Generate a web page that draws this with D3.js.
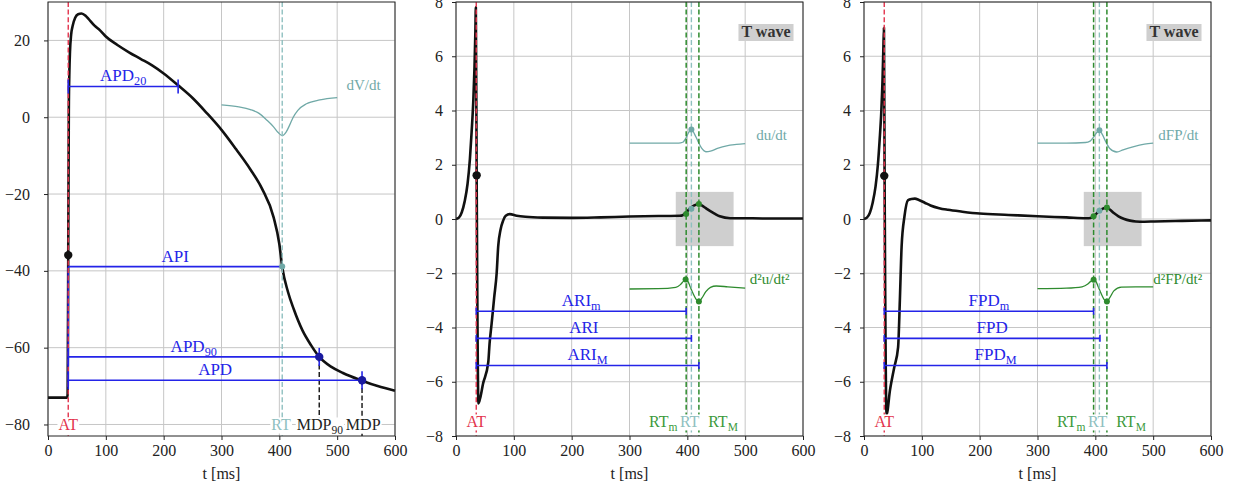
<!DOCTYPE html>
<html><head><meta charset="utf-8">
<script src="https://cdn.jsdelivr.net/npm/d3@7"></script>
<style>
body{margin:0;background:#fff}
svg{display:block}
text{font-family:"Liberation Serif","DejaVu Serif",serif}
</style>
</head><body>
<svg id="chart" width="1240" height="492"></svg>
<script>
// ---------------- data ----------------
const xTickValues = [0, 100, 200, 300, 400, 500, 600];
const apYTickValues = [-80, -60, -40, -20, 0, 20];
const egmYTickValues = [-8, -6, -4, -2, 0, 2, 4, 6, 8];

// Panel 1: action potential (mV)
const apTime =    [0, 33, 34, 35, 36, 37, 38, 40, 43, 47, 52, 58, 65, 70, 80, 90, 100, 120, 140, 160, 180, 200, 225, 250, 275, 300, 325, 350, 370, 390, 400, 405, 415, 425, 440, 455, 469, 490, 510, 543, 570, 600];
const apVoltage = [-73, -73, -72, -36, 2, 12, 17, 21.5, 24, 25.9, 26.8, 27, 26.4, 25.6, 23.9, 22.6, 21, 18.8, 16.9, 15.2, 13.5, 11.4, 8.3, 5, 1, -3.3, -8.3, -13.6, -18.6, -26, -33, -39, -45.5, -50, -55.5, -59.4, -62.4, -65, -66.6, -68.6, -70, -71.2];
const dvdtTime =  [300, 330, 350, 365, 378, 390, 398, 405, 412, 418, 424, 432, 447, 470, 500];
const dvdtValue = [3.2, 2.7, 2.0, 1.0, -0.7, -2.5, -4.0, -4.8, -3.8, -2.0, 0.0, 1.8, 3.5, 4.5, 5.1];
const apEventNames = ["AT", "RT", "MDP90", "MDP"];
const apEventTimes = [35, 405, 469, 543];
const apBarNames = ["APD20", "API", "APD90", "APD"];
const apBarLevels = [8, -38.9, -62.4, -68.5];
const apBarEnds = [225, 405, 469, 543];
const apUpstrokeDot = [35, -35.9];

// Panel 2: unipolar electrogram u
const uTime =  [0, 5, 10, 15, 20, 24, 27, 30, 32, 33.5, 34.3, 35.7, 38.8, 47, 55.8, 58, 61.6, 66, 70.3, 73, 77, 81.7, 86, 93, 105, 120, 150, 200, 250, 300, 350, 387, 392, 396, 404, 412, 419, 425, 432, 439, 447, 456, 474, 496, 530, 600];
const uValue = [0, 0.05, 0.25, 0.65, 1.3, 2.2, 3.2, 4.4, 5.6, 6.9, 7.8, 1.6, -6.8, -6.05, -5.28, -4.6, -3.86, -2.9, -2.0, -1.0, -0.4, -0.05, 0.12, 0.18, 0.12, 0.08, 0.05, 0.04, 0.06, 0.09, 0.11, 0.12, 0.14, 0.2, 0.38, 0.5, 0.55, 0.5, 0.4, 0.3, 0.2, 0.1, 0.03, 0.03, 0.02, 0.02];
const duTime =  [300, 350, 385, 392, 398, 402, 407, 412, 418, 425, 432, 440, 452, 468, 485, 500];
const duValue = [2.8, 2.8, 2.8, 2.83, 3.0, 3.18, 3.3, 3.15, 2.88, 2.6, 2.48, 2.5, 2.6, 2.7, 2.75, 2.78];
const d2uTime =  [300, 350, 380, 388, 393, 397, 401, 405, 410, 415, 420, 425, 432, 440, 450, 470, 500];
const d2uValue = [-2.58, -2.57, -2.52, -2.42, -2.3, -2.23, -2.3, -2.5, -2.75, -2.95, -3.04, -2.92, -2.68, -2.52, -2.47, -2.5, -2.55];
const uEventTimes = [35, 398, 407, 420];          // AT, RTm, RT, RTM
const uRtValues = [0.18, 0.38, 0.55];            // u at RTm, RT, RTM
const ariLevels = [-3.4, -4.4, -5.4];
const ariEnds = [398, 407, 420];
const uUpstrokeDot = [35.7, 1.61];

// Panel 3: field potential FP
const fpTime =  [0, 5, 10, 15, 20, 24, 27, 30, 32, 33.5, 34.5, 35.6, 39, 45, 52, 59, 62, 65, 70, 76, 82, 88, 95, 105, 115, 130, 145, 170, 200, 250, 300, 350, 385, 392, 397, 402, 407, 413, 419, 425, 432, 440, 450, 460, 470, 485, 502, 550, 600];
const fpValue = [0, 0.05, 0.22, 0.6, 1.2, 2.0, 2.9, 4.0, 5.1, 6.3, 7.05, 1.6, -7.2, -6.3, -5.5, -4.72, -3.0, -1.03, 0.1, 0.69, 0.74, 0.75, 0.7, 0.6, 0.5, 0.4, 0.34, 0.27, 0.2, 0.15, 0.1, 0.06, 0.03, 0.04, 0.1, 0.2, 0.3, 0.38, 0.42, 0.35, 0.22, 0.1, 0.0, -0.06, -0.09, -0.1, -0.09, -0.07, -0.05];
const dfpTime =  [300, 350, 383, 391, 397, 402, 407, 412, 418, 425, 437, 448, 465, 485, 500];
const dfpValue = [2.8, 2.8, 2.82, 2.87, 3.02, 3.18, 3.27, 3.12, 2.85, 2.6, 2.47, 2.55, 2.66, 2.76, 2.8];
const d2fpTime =  [300, 350, 377, 387, 392, 397, 401, 405, 410, 415, 420, 425, 432, 445, 470, 500];
const d2fpValue = [-2.57, -2.55, -2.5, -2.4, -2.3, -2.24, -2.3, -2.5, -2.75, -2.96, -3.04, -2.9, -2.65, -2.51, -2.5, -2.5];
const fpEventTimes = [35, 397, 407, 420];
const fpRtValues = [0.1, 0.3, 0.42];
const fpdLevels = [-3.4, -4.4, -5.4];
const fpdEnds = [397, 408, 420];
const fpUpstrokeDot = [35, 1.59];

const tWaveWindow = [380, 480];
const tWaveRange = [-1, 1];

// ---------------- styling ----------------
const COL = {
  black: "#111111", blue: "#2424e8", teal: "#70a9a7", tealLine: "#8fc0c0",
  green: "#2e8b2e", greenText: "#3c9a3c", red: "#e3334d", grid: "#c6c6c6",
  box: "#cfcfcf", frame: "#222222", text: "#222222"
};
const svg = d3.select("#chart");

function makePanel(left, right, top, bottom, yDomain, yTicks, labelGap) {
  const x = d3.scaleLinear().domain([0, 600]).range([left, right]);
  const y = d3.scaleLinear().domain(yDomain).range([bottom, top]);
  const g = svg.append("g");
  const grid = g.append("g");
  grid.selectAll("line.vx").data(xTickValues).join("line")
    .attr("x1", d => x(d)).attr("x2", d => x(d)).attr("y1", top).attr("y2", bottom)
    .attr("stroke", COL.grid).attr("stroke-width", 1);
  grid.selectAll("line.hy").data(yTicks).join("line")
    .attr("x1", left).attr("x2", right).attr("y1", d => y(d)).attr("y2", d => y(d))
    .attr("stroke", COL.grid).attr("stroke-width", 1);
  const layer = g.append("g");
  const ax = g.append("g").attr("transform", `translate(0,${bottom})`)
    .call(d3.axisBottom(x).tickValues(xTickValues).tickSize(4).tickPadding(5).tickFormat(d3.format("d")));
  const ay = g.append("g").attr("transform", `translate(${left},0)`)
    .call(d3.axisLeft(y).tickValues(yTicks).tickSize(4).tickPadding(labelGap));
  [ax, ay].forEach(a => {
    a.select(".domain").remove();
    a.selectAll("line").attr("stroke", COL.frame);
    a.selectAll("text").attr("font-size", 16).attr("fill", COL.text)
      .attr("font-family", '"Liberation Serif","DejaVu Serif",serif');
  });
  g.append("rect").attr("x", left).attr("y", top).attr("width", right - left).attr("height", bottom - top)
    .attr("fill", "none").attr("stroke", COL.frame).attr("stroke-width", 1);
  g.append("text").attr("x", (left + right) / 2).attr("y", 479).attr("text-anchor", "middle")
    .attr("font-size", 16).attr("fill", COL.text).text("t [ms]");
  return { x, y, g: layer, top, bottom };
}

function curve(P, ts, vs, color, width) {
  const line = d3.line().x(d => P.x(d[0])).y(d => P.y(d[1])).curve(d3.curveMonotoneX);
  P.g.append("path").datum(d3.zip(ts, vs)).attr("d", line)
    .attr("fill", "none").attr("stroke", color).attr("stroke-width", width)
    .attr("stroke-linejoin", "round");
}
function vdash(P, t, color, y1, y2, width) {
  P.g.append("line").attr("x1", P.x(t)).attr("x2", P.x(t))
    .attr("y1", y1 === undefined ? P.top : P.y(y1)).attr("y2", y2 === undefined ? P.bottom : P.y(y2))
    .attr("stroke", color).attr("stroke-width", width || 1.4).attr("stroke-dasharray", "5,2.6");
}
function dot(P, t, v, color, r) {
  P.g.append("circle").attr("cx", P.x(t)).attr("cy", P.y(v)).attr("r", r).attr("fill", color);
}
function splitName(name) {
  // separate trailing subscript (digits or m/M) from base
  const m = name.match(/^(.*?)(\d+)$/);
  if (m) return [m[1], m[2]];
  return [name, null];
}
function rich(P, px, py, base, sub, color, size, anchor, boxed) {
  const t = P.g.append("text").attr("x", px).attr("y", py).attr("text-anchor", anchor || "middle")
    .attr("font-size", size).attr("fill", color);
  t.append("tspan").text(base);
  if (sub) t.append("tspan").attr("dy", size * 0.22).attr("font-size", size * 0.72).text(sub);
  if (boxed) {
    const b = t.node().getBBox();
    P.g.insert("rect", () => t.node()).attr("x", b.x - 1).attr("y", b.y + 1).attr("width", b.width + 2)
      .attr("height", b.height - 1).attr("fill", "#fff");
  }
  return t;
}
function bar(P, t0, t1, level, color, cap, name) {
  const yy = P.y(level);
  P.g.append("line").attr("x1", P.x(t0)).attr("x2", P.x(t1)).attr("y1", yy).attr("y2", yy)
    .attr("stroke", color).attr("stroke-width", 1.6);
  [t0, t1].forEach(t => P.g.append("line").attr("x1", P.x(t)).attr("x2", P.x(t))
    .attr("y1", yy - cap).attr("y2", yy + cap).attr("stroke", color).attr("stroke-width", 1.6));
  const [b, s] = name;
  rich(P, P.x((t0 + t1) / 2), yy - 5, b, s, color, 17, "middle", false);
}
function tWaveLabel(P) {
  const t = P.g.append("text").attr("x", P.x(536)).attr("y", 37).attr("text-anchor", "middle")
    .attr("font-size", 16).attr("font-weight", "bold").attr("fill", "#333").text("T wave");
  const b = t.node().getBBox();
  P.g.insert("rect", () => t.node()).attr("x", b.x - 3).attr("y", b.y + 1).attr("width", b.width + 6)
    .attr("height", b.height + 0).attr("fill", COL.box);
}

// ---------------- panel 1 ----------------
const P1 = makePanel(48, 395, 2, 436, [-83, 30], apYTickValues, 14);
curve(P1, dvdtTime, dvdtValue, COL.teal, 1.3);
curve(P1, apTime, apVoltage, COL.black, 2.6);
vdash(P1, apEventTimes[1], COL.tealLine);
vdash(P1, apEventTimes[2], COL.black, apBarLevels[2], -83);
vdash(P1, apEventTimes[3], COL.black, apBarLevels[3], -83);
// blue connector along AT
P1.g.append("line").attr("x1", P1.x(apEventTimes[0])).attr("x2", P1.x(apEventTimes[0]))
  .attr("y1", P1.y(apBarLevels[1])).attr("y2", P1.y(apBarLevels[3]) + 6)
  .attr("stroke", COL.blue).attr("stroke-width", 1.6);
vdash(P1, apEventTimes[0], COL.red);
apBarNames.forEach((n, i) => {
  const nm = n === "APD20" ? ["APD", "20"] : n === "APD90" ? ["APD", "90"] : [n, null];
  bar(P1, apEventTimes[0], apBarEnds[i], apBarLevels[i], COL.blue, i === 1 ? 0 : (i === 0 ? 7 : 9), nm);
});
dot(P1, apUpstrokeDot[0], apUpstrokeDot[1], COL.black, 4.2);
dot(P1, apBarEnds[1], apBarLevels[1], COL.teal, 3);
dot(P1, apBarEnds[2], apBarLevels[2], "#1a1aa0", 4.2);
dot(P1, apBarEnds[3], apBarLevels[3], "#1a1aa0", 4.2);
rich(P1, P1.x(apEventTimes[0]), P1.y(-80) + 6, "AT", null, COL.red, 16, "middle", true);
rich(P1, P1.x(403), P1.y(-80) + 6, "RT", null, COL.tealLine, 16, "middle", true);
rich(P1, P1.x(470), P1.y(-80) + 6, "MDP", "90", COL.text, 16, "middle", true);
rich(P1, P1.x(545), P1.y(-80) + 6, "MDP", null, COL.text, 16, "middle", true);
rich(P1, P1.x(516), P1.y(7.2), "dV/dt", null, COL.teal, 15, "start", false);

// ---------------- panels 2 and 3 ----------------
function egmPanel(left, right, sig, der, der2, ev, rtVals, levels, ends, upDot, names, derLabels, derPos) {
  const P = makePanel(left, right, 2, 436, [-8, 8], egmYTickValues, 9);
  P.g.append("rect").attr("x", P.x(tWaveWindow[0])).attr("y", P.y(tWaveRange[1]))
    .attr("width", P.x(tWaveWindow[1]) - P.x(tWaveWindow[0]))
    .attr("height", P.y(tWaveRange[0]) - P.y(tWaveRange[1])).attr("fill", COL.box);
  curve(P, der[0], der[1], COL.teal, 1.3);
  curve(P, der2[0], der2[1], COL.green, 1.3);
  curve(P, sig[0], sig[1], COL.black, 2.6);
  vdash(P, ev[1], COL.green, undefined, undefined, 1.5);
  vdash(P, ev[2], COL.tealLine, undefined, undefined, 1.4);
  vdash(P, ev[3], COL.green, undefined, undefined, 1.5);
  vdash(P, ev[0], COL.red, undefined, undefined, 1.4);
  levels.forEach((lv, i) => bar(P, ev[0], ends[i], lv, COL.blue, 3.5, names[i]));
  dot(P, upDot[0], upDot[1], COL.black, 4.2);
  // marker dots on derivative peaks and signal
  const pk = d3.zip(der[0], der[1]).reduce((a, b) => b[1] > a[1] ? b : a);
  dot(P, pk[0], pk[1], COL.teal, 3);
  const mx = d3.zip(der2[0], der2[1]).reduce((a, b) => b[1] > a[1] ? b : a);
  const mn = d3.zip(der2[0], der2[1]).reduce((a, b) => b[1] < a[1] ? b : a);
  dot(P, mx[0], mx[1], COL.green, 3);
  dot(P, mn[0], mn[1], COL.green, 3);
  dot(P, ev[1], rtVals[0], COL.green, 3);
  dot(P, ev[2], rtVals[1], COL.teal, 3);
  dot(P, ev[3], rtVals[2], COL.green, 3);
  const yl = P.y(-7.5) + 5;
  rich(P, P.x(ev[0]), yl, "AT", null, COL.red, 16, "middle", true);
  rich(P, P.x(383), yl, "RT", "m", COL.greenText, 16, "end", true);
  rich(P, P.x(404), yl, "RT", null, COL.tealLine, 16, "middle", true);
  rich(P, P.x(436), yl, "RT", "M", COL.greenText, 16, "start", true);
  rich(P, P.x(derPos[0]), P.y(3.1) + 5, derLabels[0], null, COL.teal, 15, "start", false);
  rich(P, P.x(derPos[1]), P.y(-2.2) + 5, derLabels[1], null, COL.green, 15, "start", false);
  tWaveLabel(P);
  return P;
}
egmPanel(456, 803, [uTime, uValue], [duTime, duValue], [d2uTime, d2uValue], uEventTimes, uRtValues,
  ariLevels, ariEnds, uUpstrokeDot, [["ARI", "m"], ["ARI", null], ["ARI", "M"]], ["du/dt", "d²u/dt²"], [519, 508]);
egmPanel(864, 1211, [fpTime, fpValue], [dfpTime, dfpValue], [d2fpTime, d2fpValue], fpEventTimes, fpRtValues,
  fpdLevels, fpdEnds, fpUpstrokeDot, [["FPD", "m"], ["FPD", null], ["FPD", "M"]], ["dFP/dt", "d²FP/dt²"], [509, 500]);
</script>
</body></html>
